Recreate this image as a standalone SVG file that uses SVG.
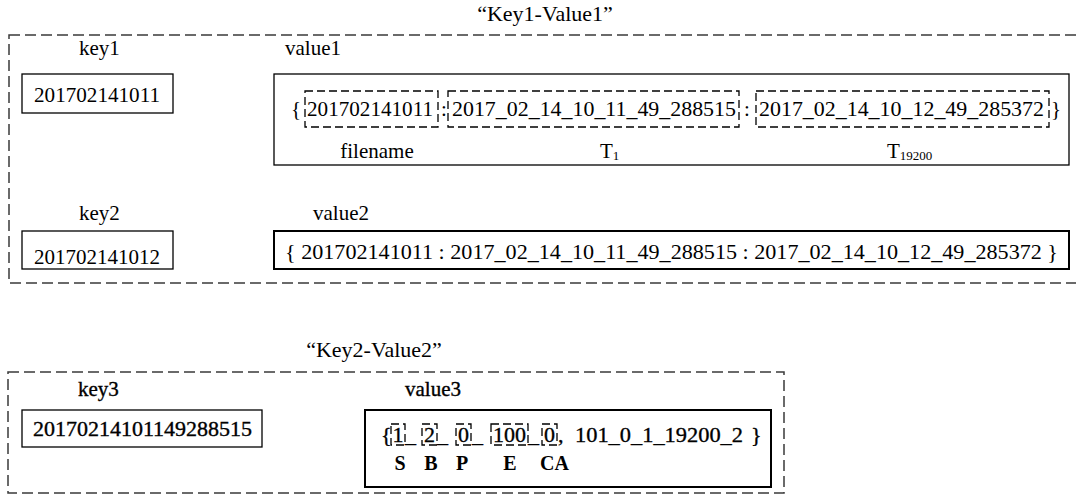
<svg xmlns="http://www.w3.org/2000/svg" width="1076" height="503" viewBox="0 0 1076 503" font-family="'Liberation Serif', 'Times New Roman', 'DejaVu Serif', serif">
<style>
text{font-family:'Liberation Serif','Times New Roman','DejaVu Serif',serif;font-size:21px;fill:#000}
.title{font-size:22px}
.big{font-size:22px}
.heavy{stroke:#000;stroke-width:0.35}
.bold{font-weight:bold;font-size:20px}
.sub{font-size:13px}
.outer{fill:none;stroke:#3a3a3a;stroke-width:1.5;stroke-dasharray:11 5}
.box{fill:#fff;stroke:#000;stroke-width:1.3}
.thick{fill:#fff;stroke:#000;stroke-width:2}
.dash{fill:none;stroke:#000;stroke-width:1.3;stroke-dasharray:8 4}
</style>
<rect width="1076" height="503" fill="#fff"/>

<g id="group1">
  <text class="title" x="545" y="21" text-anchor="middle">“Key1-Value1”</text>
  <rect class="outer" x="9" y="35" width="1090" height="248"/>
</g>

<g id="key1">
  <text x="79" y="55">key1</text>
  <rect class="box" x="22" y="74" width="151" height="39"/>
  <text x="34" y="102" textLength="126" lengthAdjust="spacingAndGlyphs">201702141011</text>
</g>

<g id="value1">
  <text x="285" y="55">value1</text>
  <rect class="box" x="274" y="74" width="795" height="91"/>
  <text x="291" y="116">{</text>
  <rect class="dash" x="305" y="91" width="133" height="36"/>
  <text x="307" y="116" textLength="126" lengthAdjust="spacingAndGlyphs">201702141011</text>
  <text x="441" y="116">:</text>
  <rect class="dash" x="448" y="91" width="291" height="36"/>
  <text x="452" y="116" textLength="284" lengthAdjust="spacingAndGlyphs">2017_02_14_10_11_49_288515</text>
  <text x="744" y="116">:</text>
  <rect class="dash" x="756" y="91" width="293" height="36"/>
  <text x="759" y="116" textLength="285" lengthAdjust="spacingAndGlyphs">2017_02_14_10_12_49_285372</text>
  <text x="1051" y="116">}</text>
  <text x="377" y="158" text-anchor="middle">filename</text>
  <text x="600" y="158">T<tspan class="sub" dy="2">1</tspan></text>
  <text x="887" y="158">T<tspan class="sub" dy="2">19200</tspan></text>
</g>

<g id="key2">
  <text x="79" y="220">key2</text>
  <rect class="box" x="22" y="231" width="151" height="38"/>
  <text x="34" y="264" textLength="126" lengthAdjust="spacingAndGlyphs">201702141012</text>
</g>

<g id="value2">
  <text x="313" y="220">value2</text>
  <rect class="thick" x="274" y="231" width="795" height="38"/>
  <text x="285" y="259" textLength="773" lengthAdjust="spacingAndGlyphs">{ 201702141011 : 2017_02_14_10_11_49_288515 : 2017_02_14_10_12_49_285372 }</text>
</g>

<g id="group2">
  <text class="title" x="374" y="357" text-anchor="middle">“Key2-Value2”</text>
  <rect class="outer" x="8" y="372" width="776" height="121"/>
</g>

<g id="key3">
  <text class="heavy" x="78" y="396">key3</text>
  <rect class="box" x="22" y="410" width="240" height="37"/>
  <text class="heavy" x="33" y="436" textLength="219" lengthAdjust="spacingAndGlyphs">20170214101149288515</text>
</g>

<g id="value3">
  <text class="heavy" x="405" y="396">value3</text>
  <rect class="thick" x="365" y="410" width="406" height="77"/>
  <text x="381" y="442" class="big heavy">{</text>
  <rect class="dash" x="391" y="424" width="14" height="21"/>
  <text x="398" y="442" class="big heavy" text-anchor="middle">1</text>
  <text x="405" y="442" class="big heavy">_</text>
  <rect class="dash" x="422" y="424" width="15" height="21"/>
  <text x="429.5" y="442" class="big heavy" text-anchor="middle">2</text>
  <text x="437" y="442" class="big heavy">_</text>
  <rect class="dash" x="456" y="424" width="15" height="21"/>
  <text x="463.5" y="442" class="big heavy" text-anchor="middle">0</text>
  <text x="472" y="442" class="big heavy">_</text>
  <rect class="dash" x="491" y="424" width="37" height="21"/>
  <text x="509.5" y="442" class="big heavy" text-anchor="middle">100</text>
  <text x="528" y="442" class="big heavy">_</text>
  <rect class="dash" x="542" y="424" width="15" height="21"/>
  <text x="549.5" y="442" class="big heavy" text-anchor="middle">0</text>
  <text x="558" y="442" class="big heavy">,</text>
  <text x="575" y="442" class="big heavy" textLength="168" lengthAdjust="spacingAndGlyphs">101_0_1_19200_2</text>
  <text x="751" y="442" class="big heavy">}</text>
  <text class="bold" x="400" y="470" text-anchor="middle">S</text>
  <text class="bold" x="431" y="470" text-anchor="middle">B</text>
  <text class="bold" x="462" y="470" text-anchor="middle">P</text>
  <text class="bold" x="510" y="470" text-anchor="middle">E</text>
  <text class="bold" x="540" y="470">CA</text>
</g>
</svg>
